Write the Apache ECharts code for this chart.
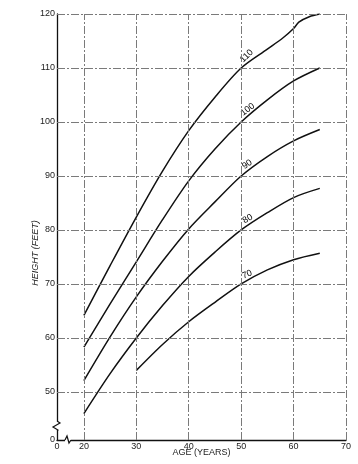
<!DOCTYPE html>
<html><head><meta charset="utf-8">
<script src="https://cdn.jsdelivr.net/npm/echarts@6/dist/echarts.min.js"></script>
<style>html,body{margin:0;padding:0;background:#fff}#c{width:358px;height:464px}</style>
</head><body><div id="c"></div>
<script>
// ---- data ----
const curveNames = ['110', '100', '90', '80', '70'];
const ages110 = [20, 25, 30, 35, 40, 45, 50, 55, 58, 60, 61, 63, 65];
const height110 = [64.2, 73.4, 82.4, 90.9, 98.4, 104.6, 110, 113.5, 115.6, 117.3, 118.5, 119.5, 120];
const ages100 = [20, 25, 30, 35, 40, 45, 50, 55, 60, 65];
const height100 = [58.3, 66.3, 74.1, 81.9, 89.1, 95, 100, 104.1, 107.6, 110];
const ages90 = [20, 25, 30, 35, 40, 45, 50, 55, 60, 65];
const height90 = [52.1, 60.2, 67.6, 74.2, 80.2, 85.2, 90, 93.6, 96.5, 98.6];
const ages80 = [20, 25, 30, 35, 40, 45, 50, 55, 60, 65];
const height80 = [46, 53.4, 60, 66, 71.4, 75.9, 80, 83.2, 86, 87.7];
const ages70 = [30, 35, 40, 45, 50, 55, 60, 65];
const height70 = [54, 58.8, 63, 66.6, 70, 72.6, 74.5, 75.7];
const labelAge = 50;                         // curve labels sit at age 50
const xTickValues = [20, 30, 40, 50, 60, 70];
const yTickValues = [50, 60, 70, 80, 90, 100, 110, 120];
const breakLabel = '0';                      // label shown at the broken axis origin
const xMin = 14.87, xMax = 70, yMin = 41.1, yMax = 120;

const curves = [
  [ages110, height110], [ages100, height100], [ages90, height90],
  [ages80, height80], [ages70, height70]
];
const labelRot = [45, 38, 34, 30, 22];
const labelShift = [[5.5, -12], [6.5, -12.5], [6, -11.5], [6.5, -11], [6, -9.5]];

const chart = echarts.init(document.getElementById('c'), null, {renderer: 'canvas'});
const font = 'Liberation Sans, Arial, sans-serif';

const series = curves.map((c, i) => ({
  type: 'line',
  name: curveNames[i],
  data: c[0].map((a, k) => [a, c[1][k]]),
  smooth: 0.3,
  showSymbol: false,
  symbol: 'none',
  lineStyle: {color: '#111', width: 1.5},
  z: 3,
  silent: true
}));

// curve labels, placed at the curve's own value at age 50
curves.forEach((c, i) => {
  const k = c[0].indexOf(labelAge);
  const t = labelRot[i] * Math.PI / 180;
  const sx = labelShift[i][0], sy = labelShift[i][1];
  // label offset is applied in the rotated frame, convert screen shift to it
  const off = [sx * Math.cos(t) - sy * Math.sin(t), sx * Math.sin(t) + sy * Math.cos(t)];
  series.push({
    type: 'scatter', silent: true, symbolSize: 1, itemStyle: {color: 'rgba(255,255,255,0)'},
    data: [[labelAge, c[1][k]]],
    label: {
      show: true, formatter: curveNames[i], position: 'inside',
      offset: off, rotate: labelRot[i],
      fontSize: 9, fontFamily: font, color: '#000',
      textBorderWidth: 0, textBorderColor: 'transparent', opacity: 1
    },
    z: 4
  });
});

// grid lines through the library's scales
series.push({
  type: 'line', data: [], silent: true,
  markLine: {
    silent: true, symbol: ['none', 'none'], animation: false,
    label: {show: false},
    lineStyle: {color: '#7a7a7a', width: 1, type: [8, 2, 2, 2]},
    data: xTickValues.map(v => ({xAxis: v})).concat(yTickValues.map(v => ({yAxis: v})))
  }
});

chart.setOption({
  animation: false,
  backgroundColor: '#fff',
  grid: {left: 57, right: 12, top: 14, bottom: 24, outerBoundsMode: 'none'},
  xAxis: {
    type: 'value', min: xMin, max: xMax,
    name: 'AGE (YEARS)', nameLocation: 'middle', nameGap: 8, nameMoveOverlap: false,
    nameTextStyle: {fontSize: 9, fontFamily: font, color: '#222', verticalAlign: 'top'},
    axisLine: {lineStyle: {color: '#111', width: 1.3}},
    axisTick: {show: false},
    splitLine: {show: false},
    axisLabel: {
      customValues: [xMin].concat(xTickValues), margin: 2,
      fontSize: 9, fontFamily: font, color: '#222',
      formatter: v => Math.abs(v - xMin) < 0.01 ? breakLabel : String(v)
    }
  },
  yAxis: {
    type: 'value', min: yMin, max: yMax,
    name: 'HEIGHT (FEET)', nameLocation: 'middle', nameGap: 17, nameRotate: 90, nameMoveOverlap: false,
    nameTextStyle: {fontSize: 9, fontFamily: font, color: '#222', fontStyle: 'italic', padding: [0, 52, 0, 0]},
    axisLine: {lineStyle: {color: '#111', width: 1.3}},
    axisTick: {show: false},
    splitLine: {show: false},
    axisLabel: {
      customValues: [yMin].concat(yTickValues), margin: 2,
      fontSize: 9, fontFamily: font, color: '#222',
      formatter: v => Math.abs(v - yMin) < 0.01 ? breakLabel : String(v)
    }
  },
  series: series
});

// axis-break zigzags, anchored to the axis origin computed by the library
const o = chart.convertToPixel({gridIndex: 0}, [xMin, yMin]);
const x0 = o[0], y0 = o[1];
const st = {stroke: '#111', lineWidth: 1.2, fill: null};
chart.setOption({
  graphic: [
    {type: 'rect', shape: {x: x0 - 2, y: y0 - 19, width: 4, height: 10}, style: {fill: '#fff'}, z: 10},
    {type: 'polyline', shape: {points: [[x0, y0 - 19], [x0 + 3, y0 - 17], [x0 - 4, y0 - 13], [x0 + 1, y0 - 10], [x0, y0 - 9]]}, style: st, z: 11},
    {type: 'rect', shape: {x: x0 + 8, y: y0 - 2, width: 6, height: 4}, style: {fill: '#fff'}, z: 10},
    {type: 'polyline', shape: {points: [[x0 + 8, y0], [x0 + 10, y0 - 4], [x0 + 12, y0 + 3], [x0 + 14, y0]]}, style: st, z: 11}
  ]
});
</script>
</body></html>
